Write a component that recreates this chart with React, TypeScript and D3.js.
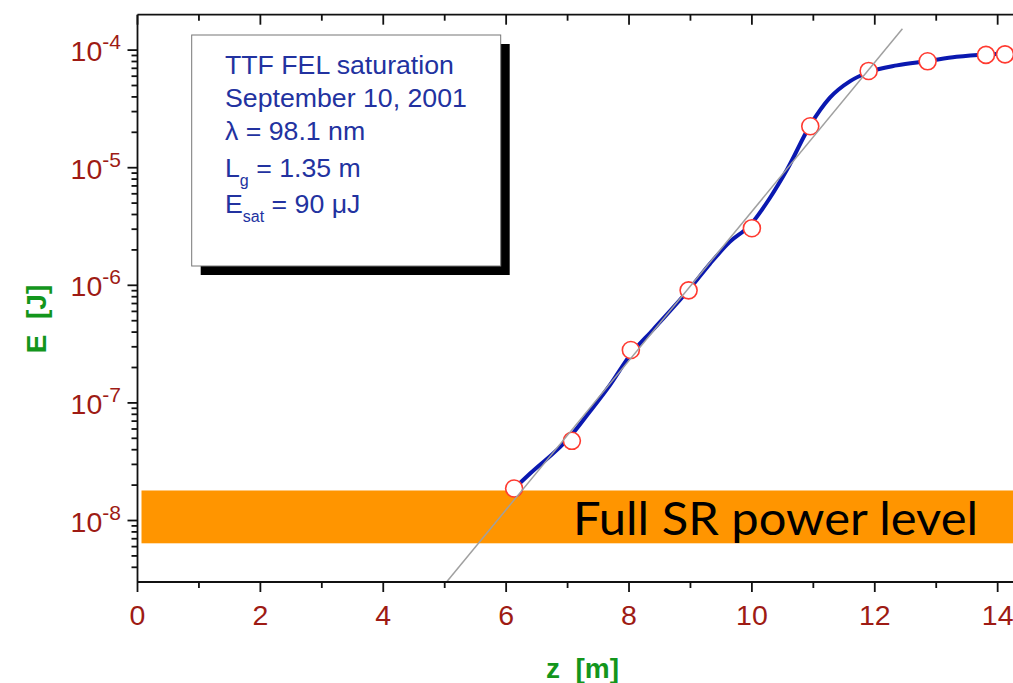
import React from "react";
import * as d3 from "d3";

// Measured points (red circles)
const measZ = [6.13, 7.07, 8.03, 8.97, 10.0, 10.95, 11.9, 12.86, 13.81, 14.12];
const measE = [1.87e-8, 4.76e-8, 2.82e-7, 9.06e-7, 3.06e-6, 2.25e-5, 6.65e-5, 8.03e-5, 9.1e-5, 9.2e-5];

// Simulation curve (blue)
const simZ = [6.13, 6.39, 7.04, 7.36, 7.69, 8.02, 8.39, 8.99, 9.32, 9.64, 9.97, 10.29, 10.57, 10.95, 11.27, 11.6, 11.89, 12.36, 12.86, 13.33, 13.81, 14.12];
const simE = [1.87e-8, 2.51e-8, 5.15e-8, 8.41e-8, 1.42e-7, 2.56e-7, 4.19e-7, 9.38e-7, 1.53e-6, 2.34e-6, 3.24e-6, 5.5e-6, 9.6e-6, 2.3e-5, 3.94e-5, 5.45e-5, 6.45e-5, 7.41e-5, 8.07e-5, 8.77e-5, 9.18e-5, 9.3e-5];

// Exponential fit (gray line)
const fitZ = [5.03, 12.45];
const fitE = [3e-9, 1.52e-4];

// Axis ticks
const xMajor = [0, 2, 4, 6, 8, 10, 12, 14];
const xMinor = [1, 3, 5, 7, 9, 11, 13];
const yExps = [-8, -7, -6, -5, -4];

// Legend text lines
const legendLines = ["TTF FEL saturation", "September 10, 2001", "λ = 98.1 nm"];

// Annotation band
const bandE = [6.4e-9, 1.8e-8];
const bandLabel = "Full SR power level";

export default function App() {
  const W = 1013, H = 683;
  const x = d3.scaleLinear().domain([0, 15]).range([137.5, 137.5 + 15 * 61.44]);
  const y = d3.scaleLog().domain([3e-9, 2e-4]).range([582, 14.7]);
  const x0 = x(0), yB = y(3e-9), yT = y(2e-4);

  const yMinor: number[] = [];
  for (let e = -9; e <= -4; e++) {
    for (let k = 2; k <= 9; k++) {
      const v = k * Math.pow(10, e);
      if (v > 3.5e-9 && v < 1.9e-4) yMinor.push(v);
    }
  }

  const line = d3
    .line<[number, number]>()
    .x((d) => x(d[0]))
    .y((d) => y(d[1]))
    .curve(d3.curveMonotoneX);
  const simPath = line(simZ.map((z, i) => [z, simE[i]] as [number, number])) || "";
  const fitPath =
    d3
      .line<[number, number]>()
      .x((d) => x(d[0]))
      .y((d) => y(d[1]))(fitZ.map((z, i) => [z, fitE[i]] as [number, number])) || "";

  const red = "#9e1b14";
  const green = "#13961c";
  const blueText = "#2232a0";
  const font = "'Liberation Sans', Arial, Helvetica, sans-serif";

  const bx = 191.7, by = 35, bw = 309, bh = 231;

  return (
    <svg
      width={W}
      height={H}
      style={{ position: "absolute", left: 0, top: 0, background: "#fff" }}
      fontFamily={font}
    >
      <rect x={0} y={0} width={W} height={H} fill="#fff" />

      {/* band */}
      <rect
        x={x0 + 4}
        y={y(bandE[1])}
        width={W - x0 - 4}
        height={y(bandE[0]) - y(bandE[1])}
        fill="#ff9500"
      />
      <text
        x={573}
        y={535}
        fontFamily="Lato, 'Open Sans', sans-serif"
        fontSize={47}
        fill="#000"
        textLength={405}
        lengthAdjust="spacingAndGlyphs"
      >
        {bandLabel}
      </text>

      {/* legend box */}
      <rect x={bx + 9} y={by + 9} width={bw} height={bh} fill="#000" />
      <rect x={bx} y={by} width={bw} height={bh} fill="#fff" stroke="#777" strokeWidth={1} />
      <g fill={blueText} fontSize={26.7}>
        {legendLines.map((t, i) => (
          <text key={i} x={225} y={[74, 107, 140][i]}>
            {t}
          </text>
        ))}
        <text x={225} y={176.5}>
          <tspan>L</tspan>
          <tspan fontSize={16} dy={9}>g</tspan>
          <tspan dy={-9}>{" = 1.35 m"}</tspan>
        </text>
        <text x={225} y={212.5}>
          <tspan>E</tspan>
          <tspan fontSize={16} dy={9}>sat</tspan>
          <tspan dy={-9}>{" = 90 μJ"}</tspan>
        </text>
      </g>

      {/* curves */}
      <path d={simPath} fill="none" stroke="#0a18b0" strokeWidth={4} strokeLinejoin="round" />
      {measZ.map((z, i) => (
        <circle key={i} cx={x(z)} cy={y(measE[i])} r={8.5} fill="#fff" stroke="#ff3a30" strokeWidth={1.6} />
      ))}
      <path d={fitPath} fill="none" stroke="#a0a0a0" strokeWidth={1.5} />

      {/* axes */}
      <g stroke="#111" strokeWidth={1.8}>
        <line x1={x0} x2={x0} y1={yT} y2={yB} />
        <line x1={x0} x2={W} y1={yB} y2={yB} />
        <line x1={x0} x2={W} y1={yT} y2={yT} />
        {xMajor.map((v) => (
          <g key={"xm" + v}>
            <line x1={x(v)} x2={x(v)} y1={yB} y2={yB + 10} />
            <line x1={x(v)} x2={x(v)} y1={yT} y2={yT + 10} />
          </g>
        ))}
        {xMinor.map((v) => (
          <g key={"xn" + v}>
            <line x1={x(v)} x2={x(v)} y1={yB} y2={yB + 6} />
            <line x1={x(v)} x2={x(v)} y1={yT} y2={yT + 6} />
          </g>
        ))}
        {yExps.map((e) => (
          <line key={"ym" + e} x1={x0 - 10} x2={x0} y1={y(Math.pow(10, e))} y2={y(Math.pow(10, e))} />
        ))}
        {yMinor.map((v, i) => (
          <line key={"yn" + i} x1={x0 - 6} x2={x0} y1={y(v)} y2={y(v)} />
        ))}
      </g>

      {/* tick labels */}
      <g fill={red} fontSize={28.5}>
        {xMajor.map((v) => (
          <text key={"xl" + v} x={x(v)} y={625} textAnchor="middle">
            {v}
          </text>
        ))}
        {yExps.map((e) => (
          <text key={"yl" + e} x={121} y={y(Math.pow(10, e)) + 11} textAnchor="end">
            <tspan>10</tspan>
            <tspan fontSize={21} dy={-12}>{String(e)}</tspan>
          </text>
        ))}
      </g>

      {/* axis titles */}
      <text
        x={582.5}
        y={678}
        textAnchor="middle"
        fill={green}
        fontWeight="bold"
        fontSize={28}
        style={{ whiteSpace: "pre" }}
      >
        {"z  [m]"}
      </text>
      <text
        transform="translate(46,319) rotate(-90)"
        textAnchor="middle"
        fill={green}
        fontWeight="bold"
        fontSize={28}
        style={{ whiteSpace: "pre" }}
      >
        {"E  [J]"}
      </text>
    </svg>
  );
}
